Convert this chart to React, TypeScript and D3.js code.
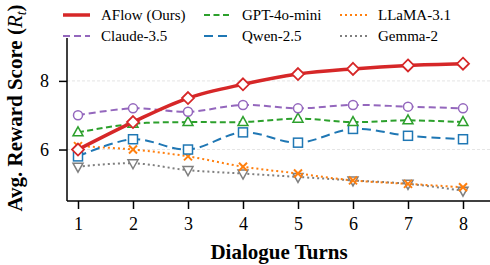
import React, { useRef, useEffect } from "react";
import * as d3 from "d3";

const turns = [1, 2, 3, 4, 5, 6, 7, 8];
const aflow = [6.0, 6.8, 7.5, 7.9, 8.2, 8.35, 8.45, 8.5];
const claude = [7.0, 7.2, 7.1, 7.3, 7.2, 7.3, 7.25, 7.2];
const gpt4omini = [6.5, 6.75, 6.8, 6.8, 6.9, 6.8, 6.85, 6.8];
const qwen = [5.8, 6.3, 6.0, 6.5, 6.2, 6.6, 6.4, 6.3];
const llama = [6.1, 6.0, 5.8, 5.5, 5.3, 5.1, 5.0, 4.9];
const gemma = [5.5, 5.6, 5.4, 5.3, 5.2, 5.1, 5.0, 4.8];
const yTicks = [6, 8];

const series = [
  { name: "AFlow (Ours)", values: aflow, color: "#d62728", dash: "", width: 3.5, marker: "diamond" },
  { name: "Claude-3.5", values: claude, color: "#9467bd", dash: "7,4", width: 2, marker: "circle" },
  { name: "GPT-4o-mini", values: gpt4omini, color: "#2ca02c", dash: "6,3.5", width: 2, marker: "triangle" },
  { name: "Qwen-2.5", values: qwen, color: "#1f77b4", dash: "9,5", width: 2, marker: "square" },
  { name: "LLaMA-3.1", values: llama, color: "#ff7f0e", dash: "2,3", width: 2, marker: "cross" },
  { name: "Gemma-2", values: gemma, color: "#7f7f7f", dash: "2,3", width: 2, marker: "triangleDown" },
];

// legend order: row major, 3 columns
const legendOrder = ["AFlow (Ours)", "GPT-4o-mini", "LLaMA-3.1", "Claude-3.5", "Qwen-2.5", "Gemma-2"];

function App() {
  const ref = useRef<SVGSVGElement>(null);

  useEffect(() => {
    const svg = d3.select(ref.current);
    svg.selectAll("*").remove();
    const font = "'Liberation Serif', 'Times New Roman', serif";

    const left = 67, right = 485, top = 38, bottom = 201;
    const x = d3.scaleLinear().domain([0.8, 8.4]).range([left, right]);
    const y = d3.scaleLinear().domain([4.5, 9.25]).range([bottom, top]);

    // grid
    svg.append("g").selectAll("line").data(yTicks).join("line")
      .attr("x1", left).attr("x2", 490)
      .attr("y1", d => y(d)).attr("y2", d => y(d))
      .attr("stroke", "#dddddd").attr("stroke-width", 0.8).attr("stroke-dasharray", "3,2");

    const line = d3.line<number>()
      .x((d, i) => x(turns[i]))
      .y(d => y(d))
      .curve(d3.curveCatmullRom.alpha(0.5));

    const drawOrder = [...series].reverse();
    drawOrder.forEach(s => {
      svg.append("path")
        .datum(s.values)
        .attr("fill", "none")
        .attr("stroke", s.color)
        .attr("stroke-width", s.width)
        .attr("stroke-dasharray", s.dash || null)
        .attr("d", line);

      const g = svg.append("g");
      s.values.forEach((v, i) => {
        const cx = x(turns[i]), cy = y(v);
        const m = g.append("g").attr("transform", `translate(${cx},${cy})`);
        if (s.marker === "circle") {
          m.append("circle").attr("r", 4.5).attr("fill", "white").attr("stroke", s.color).attr("stroke-width", 1.5);
        } else if (s.marker === "square") {
          m.append("rect").attr("x", -4.5).attr("y", -4.5).attr("width", 9).attr("height", 9)
            .attr("fill", "white").attr("stroke", s.color).attr("stroke-width", 1.5);
        } else if (s.marker === "diamond") {
          m.append("path").attr("d", "M0,-6L6,0L0,6L-6,0Z")
            .attr("fill", "white").attr("stroke", s.color).attr("stroke-width", 1.8);
        } else if (s.marker === "triangle") {
          m.append("path").attr("d", "M0,-5.5L5,3.5L-5,3.5Z")
            .attr("fill", "white").attr("stroke", s.color).attr("stroke-width", 1.5);
        } else if (s.marker === "triangleDown") {
          m.append("path").attr("d", "M0,5.5L5,-3.5L-5,-3.5Z")
            .attr("fill", "white").attr("stroke", s.color).attr("stroke-width", 1.5);
        } else if (s.marker === "cross") {
          m.append("path").attr("d", "M-4,-4L4,4M-4,4L4,-4")
            .attr("stroke", s.color).attr("stroke-width", 2);
        }
      });
    });

    // axes
    const xAxis = svg.append("g").attr("transform", `translate(0,${bottom})`)
      .call(d3.axisBottom(x).tickValues(turns).tickFormat(d3.format("d")).tickSize(8).tickPadding(8));
    const yAxis = svg.append("g").attr("transform", `translate(${left},0)`)
      .call(d3.axisLeft(y).tickValues(yTicks).tickFormat(d3.format("d")).tickSize(8).tickPadding(10));
    [xAxis, yAxis].forEach(a => {
      a.select(".domain").attr("stroke", "black").attr("stroke-width", 1.5);
      a.selectAll(".tick line").attr("stroke", "black").attr("stroke-width", 1.5);
      a.selectAll(".tick text").attr("font-family", font).attr("font-size", 18).attr("fill", "black");
    });
    xAxis.select(".domain").attr("d", `M${left},0H490`);
    yAxis.select(".domain").attr("d", `M0,${top}V${bottom}`);

    // axis titles
    svg.append("text")
      .attr("x", 279).attr("y", 259)
      .attr("text-anchor", "middle")
      .attr("font-family", font).attr("font-weight", "bold").attr("font-size", 21)
      .text("Dialogue Turns");

    const yt = svg.append("text")
      .attr("transform", `translate(22,108) rotate(-90)`)
      .attr("text-anchor", "middle")
      .attr("font-family", font).attr("font-weight", "bold").attr("font-size", 21);
    yt.append("tspan").text("Avg. Reward Score (");
    yt.append("tspan").attr("font-style", "italic").attr("font-weight", "normal").text("R");
    yt.append("tspan").attr("font-style", "italic").attr("font-weight", "normal").attr("font-size", 14).attr("dy", 4).text("t");
    yt.append("tspan").attr("dy", -4).text(")");

    // legend
    const colX = [63, 204, 340];
    const rowY = [15, 36];
    legendOrder.forEach((name, i) => {
      const s = series.find(d => d.name === name)!;
      const cx = colX[i % 3], cy = rowY[Math.floor(i / 3)];
      svg.append("line")
        .attr("x1", cx).attr("x2", cx + 27).attr("y1", cy).attr("y2", cy)
        .attr("stroke", s.color).attr("stroke-width", s.width)
        .attr("stroke-dasharray", s.dash || null);
      svg.append("text")
        .attr("x", cx + 38).attr("y", cy).attr("dy", "0.35em")
        .attr("font-family", font).attr("font-size", 15).attr("fill", "black")
        .text(name);
    });
  }, []);

  return (
    <svg ref={ref} width={490} height={265}
      style={{ position: "absolute", left: 0, top: 0, background: "white" }} />
  );
}

export default App;
